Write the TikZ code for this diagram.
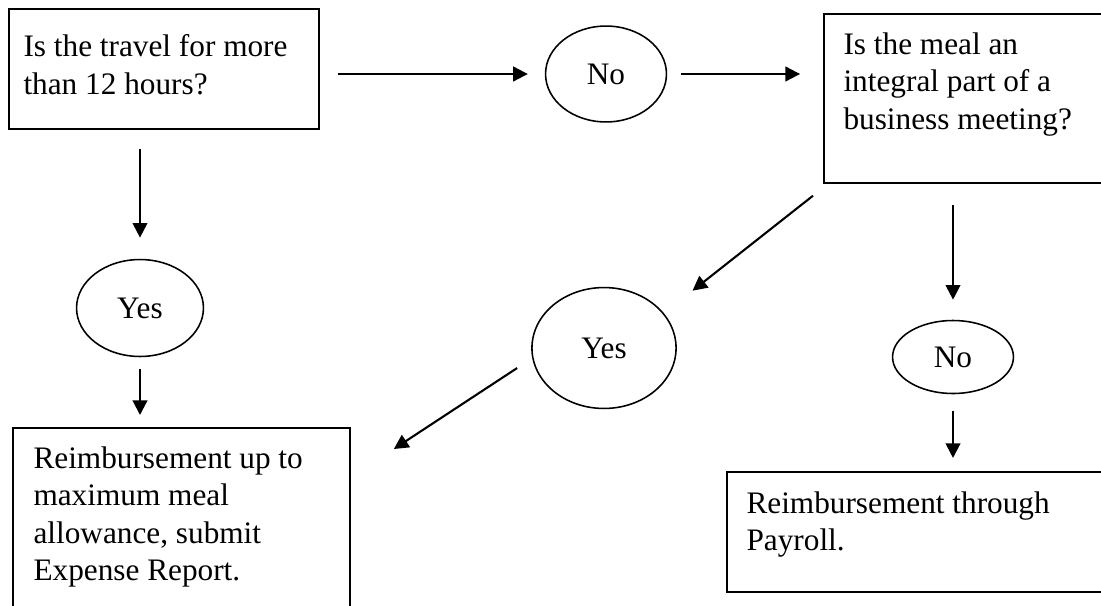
\documentclass[tikz,border=0pt]{standalone}
\usepackage{fontspec}
\setmainfont{Liberation Serif}
\usetikzlibrary{shapes,arrows.meta,calc}
\tikzstyle{answer}=[draw, ellipse, line width=0.6pt, inner sep=0pt]
\tikzstyle{frame}=[draw, rectangle, line width=0.7pt, anchor=north west, inner sep=0pt]
\tikzstyle{boxtext}=[anchor=north west, inner sep=0pt, align=left]
\tikzstyle{flow}=[-{Triangle[length=5.6pt,width=5.6pt]}, line width=0.8pt]
\begin{document}
\begin{tikzpicture}[x=0.3837pt, y=-0.3837pt, font=\fontsize{12}{14.4}\selectfont]
	\useasboundingbox (0,0) rectangle (1101,605);
	\clip (0,0) rectangle (1101,605);
	\node[frame, minimum width=118.9pt, minimum height=46pt] (travel) at (8,8) {};
	\node[frame, minimum width=122.8pt, minimum height=64.8pt] (meal) at (823,13) {};
	\node[frame, minimum width=129.3pt, minimum height=96pt] (allowance) at (12,427) {};
	\node[frame, minimum width=161pt, minimum height=46pt] (payroll) at (726,471) {};
	\node[boxtext] (traveltext) at ($(travel.north west)+(15,26)$) {Is the travel for more\\than 12 hours?};
	\node[boxtext] (mealtext) at ($(meal.north west)+(20,19)$) {Is the meal an\\integral part of a\\business meeting?};
	\node[boxtext] (allowancetext) at ($(allowance.north west)+(21,19)$) {Reimbursement up to\\maximum meal\\allowance, submit\\Expense Report.};
	\node[boxtext] (payrolltext) at ($(payroll.north west)+(20,20)$) {Reimbursement through\\Payroll.};
	\node[answer, minimum width=46.4pt, minimum height=36.8pt] (no1) at (606,74) {No};
	\node[answer, minimum width=48.7pt, minimum height=37.2pt] (yes1) at (140,308) {Yes};
	\node[answer, minimum width=55.3pt, minimum height=46.4pt] (yes2) at (604,348) {Yes};
	\node[answer, minimum width=46.4pt, minimum height=28pt] (no2) at (953,357) {No};
	\draw[flow, shorten <=6.9pt, shorten >=6.5pt] (travel.east |- no1.west) -- (no1.west);
	\draw[flow, shorten <=5.4pt, shorten >=8.8pt] (no1.east) -- (no1.east -| meal.west);
	\draw[flow, shorten <=7.3pt, shorten >=8.1pt] (travel.south -| yes1.north) -- (yes1.north);
	\draw[flow, shorten <=4.4pt, shorten >=4.6pt] (yes1.south) -- (yes1.south |- allowance.north);
	\draw[flow] ($(meal.south west)+(-10,12)$) -- ($(yes2.north east)+(37,-14)$);
	\draw[flow] ($(yes2.west)+(-14,20)$) -- ($(allowance.north east)+(43,22)$);
	\draw[flow, shorten <=8.1pt, shorten >=7.7pt] (no2.north |- meal.south) -- (no2.north);
	\draw[flow, shorten <=6.3pt, shorten >=5pt] (no2.south) -- (no2.south |- payroll.north);
\end{tikzpicture}
\end{document}
